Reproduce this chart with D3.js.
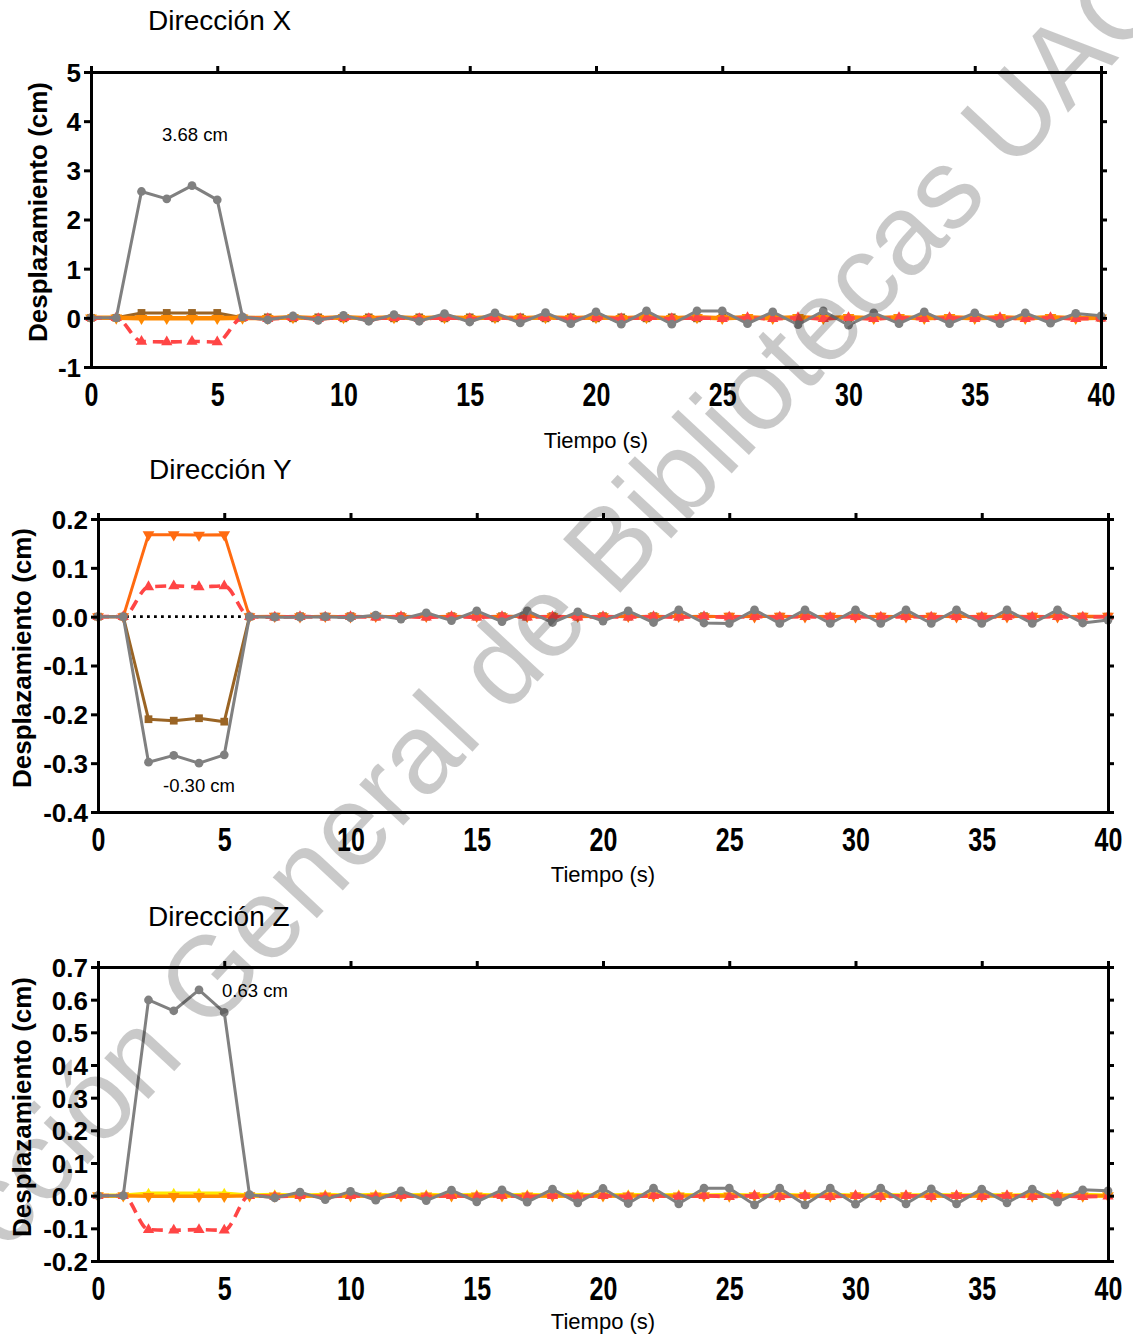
<!DOCTYPE html>
<html>
<head>
<meta charset="utf-8">
<script src="https://cdn.jsdelivr.net/npm/d3@7/dist/d3.min.js"></script>
<style>
  html, body { margin: 0; padding: 0; background: #fff; }
  svg { display: block; font-family: "Liberation Sans", Arial, sans-serif; }
</style>
</head>
<body>
<svg id="chart" width="1133" height="1338"></svg>
<script>
// Time steps (s)
const tiempo = d3.range(0, 41);
const xTicks = [0, 5, 10, 15, 20, 25, 30, 35, 40];

// ---- Dirección X ----
const xGris = [0, 0, 2.57, 2.42, 2.69, 2.40, 0.02, -0.04, 0.04, -0.05, 0.05, -0.07, 0.065, -0.07, 0.085, -0.085, 0.10, -0.105, 0.105, -0.12, 0.12, -0.13, 0.14, -0.13, 0.14, 0.14, -0.12, 0.12, -0.14, 0.14, -0.15, 0.10, -0.12, 0.12, -0.12, 0.10, -0.12, 0.10, -0.11, 0.09, 0.04];
const xCafe = [0, 0, 0.10, 0.10, 0.10, 0.10, 0, 0.01, -0.01, 0.01, -0.01, 0.01, -0.01, 0.01, -0.01, 0.01, -0.01, 0.01, -0.01, 0.01, -0.01, 0.01, -0.01, 0.01, -0.01, 0.01, -0.01, 0.01, -0.01, 0.01, -0.01, 0.01, -0.01, 0.01, -0.01, 0.01, -0.01, 0.01, -0.01, 0.01, 0];
const xNaranja = [0, 0, -0.01, -0.01, -0.01, -0.01, 0, -0.01, 0.01, -0.01, 0.01, -0.01, 0.01, -0.01, 0.01, -0.01, 0.01, -0.01, 0.01, -0.01, 0.01, -0.01, 0.01, -0.01, 0.01, -0.01, 0.01, -0.01, 0.01, -0.01, 0.01, -0.01, 0.01, -0.01, 0.01, -0.01, 0.01, -0.01, 0.01, -0.01, 0];
const xRojo = [0, 0, -0.48, -0.49, -0.48, -0.49, 0, -0.02, 0, -0.02, 0, -0.02, 0, -0.02, 0, -0.02, 0, -0.02, 0, -0.02, 0, -0.02, 0, -0.02, 0, -0.02, 0, -0.02, 0, -0.02, 0, -0.02, 0, -0.02, 0, -0.02, 0, -0.02, 0, -0.02, -0.01];
const yTicksX = [-1, 0, 1, 2, 3, 4, 5];

// ---- Dirección Y ----
const yGris = [0, 0, -0.298, -0.284, -0.30, -0.283, 0, -0.001, -0.001, 0, -0.002, 0.003, -0.005, 0.008, -0.008, 0.012, -0.010, 0.012, -0.012, 0.010, -0.009, 0.012, -0.012, 0.014, -0.013, -0.014, 0.014, -0.014, 0.014, -0.014, 0.014, -0.014, 0.014, -0.014, 0.014, -0.014, 0.014, -0.014, 0.014, -0.013, -0.007];
const yCafe = [0, 0, -0.210, -0.213, -0.208, -0.215, 0, 0, 0.001, 0, 0.001, 0, 0.001, 0, 0.001, 0, 0.001, 0, 0.001, 0, 0.001, 0, 0.001, 0, 0.001, 0, 0.001, 0, 0.001, 0, 0.001, 0, 0.001, 0, 0.001, 0, 0.001, 0, 0.001, 0, 0];
const yNaranja = [0, 0, 0.168, 0.168, 0.167, 0.168, 0, 0.001, 0, 0.001, 0, 0.001, 0, 0.001, 0, 0.001, 0, 0.001, 0, 0.001, 0, 0.001, 0, 0.001, 0, 0.001, 0, 0.001, 0, 0.001, 0, 0.001, 0, 0.001, 0, 0.001, 0, 0.001, 0, 0.001, 0.001];
const yRojo = [0, 0, 0.061, 0.063, 0.061, 0.063, 0, -0.001, 0, -0.001, 0, -0.001, 0, -0.001, 0, -0.001, 0, -0.001, 0, -0.001, 0, -0.001, 0, -0.001, 0, -0.001, 0, -0.001, 0, -0.001, 0, -0.001, 0, -0.001, 0, -0.001, 0, -0.001, 0, -0.001, 0];
const yTicksY = [-0.4, -0.3, -0.2, -0.1, 0.0, 0.1, 0.2];

// ---- Dirección Z ----
const zGris = [0, 0, 0.599, 0.566, 0.63, 0.561, 0.003, -0.007, 0.011, -0.012, 0.013, -0.014, 0.015, -0.015, 0.017, -0.019, 0.018, -0.020, 0.020, -0.022, 0.022, -0.024, 0.023, -0.025, 0.023, 0.023, -0.028, 0.023, -0.028, 0.023, -0.026, 0.023, -0.025, 0.021, -0.025, 0.020, -0.022, 0.020, -0.020, 0.018, 0.015];
const zAmarillo = [0, 0, 0.006, 0.006, 0.006, 0.006, 0, 0.002, 0, 0.002, 0, 0.002, 0, 0.002, 0, 0.002, 0, 0.002, 0, 0.002, 0, 0.002, 0, 0.002, 0, 0.002, 0, 0.002, 0, 0.002, 0, 0.002, 0, 0.002, 0, 0.002, 0, 0.002, 0, 0.002, 0];
const zNaranja = [0, 0, -0.002, -0.002, -0.002, -0.002, 0, -0.001, 0, -0.001, 0, -0.001, 0, -0.001, 0, -0.001, 0, -0.001, 0, -0.001, 0, -0.001, 0, -0.001, 0, -0.001, 0, -0.001, 0, -0.001, 0, -0.001, 0, -0.001, 0, -0.001, 0, -0.001, 0, -0.001, 0];
const zRojo = [0, 0, -0.104, -0.106, -0.104, -0.106, 0, -0.003, 0, -0.003, 0, -0.003, 0, -0.003, 0, -0.003, 0, -0.003, 0, -0.003, 0, -0.003, 0, -0.003, 0, -0.003, 0, -0.003, 0, -0.003, 0, -0.003, 0, -0.003, 0, -0.003, 0, -0.003, 0, -0.003, -0.002];
const yTicksZ = [-0.2, -0.1, 0.0, 0.1, 0.2, 0.3, 0.4, 0.5, 0.6, 0.7];

const colores = {
  gris: "#808080",
  cafe: "#9a6424",
  naranjaX: "#ff8a00",
  naranjaY: "#ff6a10",
  rojo: "#ff4545",
  amarillo: "#ffe800"
};

// plain hyphen for negative tick labels
const conGuion = f => d => f(d).replace("\u2212", "-");

const paneles = [
  {
    titulo: "Dirección X", left: 91, right: 1101, top: 72, bottom: 367,
    dominio: [-1, 5], ticks: yTicksX, fmt: conGuion(d3.format("d")),
    tituloPos: [148, 30], yTitulo: [38, 212], xTitulo: [596, 448],
    nota: { texto: "3.68 cm", x: 162, y: 141 },
    series: [
      { datos: xCafe, color: colores.cafe, simbolo: d3.symbolSquare, tam: 60 },
      { datos: xNaranja, color: colores.naranjaX, simbolo: "down", tam: 60, ancho: 4.5 },
      { datos: xRojo, color: colores.rojo, simbolo: d3.symbolTriangle, tam: 55, punteada: true },
      { datos: xGris, color: colores.gris, simbolo: d3.symbolCircle, tam: 60 }
    ]
  },
  {
    titulo: "Dirección Y", left: 98, right: 1108, top: 519, bottom: 812,
    dominio: [-0.4, 0.2], ticks: yTicksY, fmt: conGuion(d3.format(".1f")),
    tituloPos: [149, 479], yTitulo: [22, 658], xTitulo: [603, 882],
    nota: { texto: "-0.30 cm", x: 163, y: 792 },
    series: [
      { datos: yCafe, color: colores.cafe, simbolo: d3.symbolSquare, tam: 60 },
      { datos: yNaranja, color: colores.naranjaY, simbolo: "down", tam: 60 },
      { datos: yRojo, color: colores.rojo, simbolo: d3.symbolTriangle, tam: 55, punteada: true },
      { datos: yGris, color: colores.gris, simbolo: d3.symbolCircle, tam: 60 }
    ]
  },
  {
    titulo: "Dirección Z", left: 98, right: 1108, top: 967, bottom: 1261,
    dominio: [-0.2, 0.7], ticks: yTicksZ, fmt: conGuion(d3.format(".1f")),
    tituloPos: [148, 926], yTitulo: [22, 1107], xTitulo: [603, 1329],
    nota: { texto: "0.63 cm", x: 222, y: 997 },
    series: [
      { datos: zAmarillo, color: colores.amarillo, simbolo: d3.symbolTriangle, tam: 45, ancho: 4.5 },
      { datos: zNaranja, color: colores.naranjaX, simbolo: "down", tam: 60, ancho: 3.5 },
      { datos: zRojo, color: colores.rojo, simbolo: d3.symbolTriangle, tam: 55, punteada: true },
      { datos: zGris, color: colores.gris, simbolo: d3.symbolCircle, tam: 60 }
    ]
  }
];

const svg = d3.select("#chart");

paneles.forEach(p => {
  const x = d3.scaleLinear().domain([0, 40]).range([p.left, p.right]);
  const y = d3.scaleLinear().domain(p.dominio).range([p.bottom, p.top]);
  const g = svg.append("g");

  // zero reference line
  g.append("line")
    .attr("x1", x(0)).attr("x2", x(40))
    .attr("y1", y(0)).attr("y2", y(0))
    .attr("stroke", "#000").attr("stroke-width", 2.8)
    .attr("stroke-dasharray", "2.8,4.2");

  // series lines + markers
  p.series.forEach(s => {
    const pts = tiempo.map((t, i) => [t, s.datos[i]]);
    const linea = d3.line()
      .x(d => x(d[0])).y(d => y(d[1]))
      .curve(s.punteada ? d3.curveMonotoneX : d3.curveLinear);
    g.append("path")
      .attr("d", linea(pts))
      .attr("fill", "none")
      .attr("stroke", s.color)
      .attr("stroke-width", s.punteada ? 3.6 : (s.ancho || 3))
      .attr("stroke-linejoin", "round")
      .attr("stroke-dasharray", s.punteada ? "11,7" : null);
    const simb = s.simbolo === "down" ? d3.symbolTriangle : s.simbolo;
    g.append("g").selectAll("path")
      .data(pts)
      .join("path")
      .attr("d", d3.symbol().type(simb).size(s.tam))
      .attr("transform", d => `translate(${x(d[0])},${y(d[1])})` + (s.simbolo === "down" ? " rotate(180)" : ""))
      .attr("fill", s.color);
  });

  // frame axes
  const axL = g.append("g").attr("transform", `translate(${p.left},0)`)
    .call(d3.axisLeft(y).tickValues(p.ticks).tickFormat(p.fmt).tickSize(7).tickPadding(3));
  const axR = g.append("g").attr("transform", `translate(${p.right},0)`)
    .call(d3.axisRight(y).tickValues(p.ticks).tickFormat("").tickSize(6));
  const axB = g.append("g").attr("transform", `translate(0,${p.bottom})`)
    .call(d3.axisBottom(x).tickValues(xTicks).tickFormat(d3.format("d")).tickSize(0));
  const axT = g.append("g").attr("transform", `translate(0,${p.top})`)
    .call(d3.axisTop(x).tickValues(xTicks).tickFormat("").tickSize(6));

  [axL, axR, axB, axT].forEach(a => {
    a.select(".domain").attr("stroke", "#000").attr("stroke-width", 3);
    a.selectAll(".tick line").attr("stroke", "#000").attr("stroke-width", 3);
  });
  axL.selectAll(".tick text")
    .attr("font-family", "Liberation Sans, Arial, sans-serif")
    .attr("font-weight", "bold").attr("font-size", 26).attr("fill", "#000")
    .attr("dy", "0.36em");
  // bottom labels are drawn slightly tall
  axB.selectAll(".tick text")
    .attr("font-family", "Liberation Sans, Arial, sans-serif")
    .attr("font-weight", "bold").attr("font-size", 25).attr("fill", "#000")
    .attr("y", 0).attr("dy", 0)
    .attr("transform", "translate(0,39) scale(1,1.3)");

  // titles
  g.append("text")
    .attr("x", p.tituloPos[0]).attr("y", p.tituloPos[1])
    .attr("font-size", 28).attr("fill", "#000")
    .text(p.titulo);
  g.append("text")
    .attr("transform", `translate(${p.yTitulo[0]},${p.yTitulo[1]}) rotate(-90)`)
    .attr("text-anchor", "middle").attr("dy", "0.36em")
    .attr("font-size", 26).attr("font-weight", "bold").attr("fill", "#000")
    .text("Desplazamiento (cm)");
  g.append("text")
    .attr("x", p.xTitulo[0]).attr("y", p.xTitulo[1])
    .attr("text-anchor", "middle")
    .attr("font-size", 22).attr("fill", "#000")
    .text("Tiempo (s)");
  g.append("text")
    .attr("x", p.nota.x).attr("y", p.nota.y)
    .attr("font-size", 18.5).attr("fill", "#000")
    .text(p.nota.texto);
});

// library watermark
svg.append("text")
  .attr("transform", "translate(492,672) rotate(-47)")
  .attr("text-anchor", "middle")
  .attr("dy", "0.35em")
  .attr("font-size", 114)
  .attr("fill", "#000")
  .attr("fill-opacity", 0.21)
  .text("Dirección General de Bibliotecas UAQ");
</script>
</body>
</html>
